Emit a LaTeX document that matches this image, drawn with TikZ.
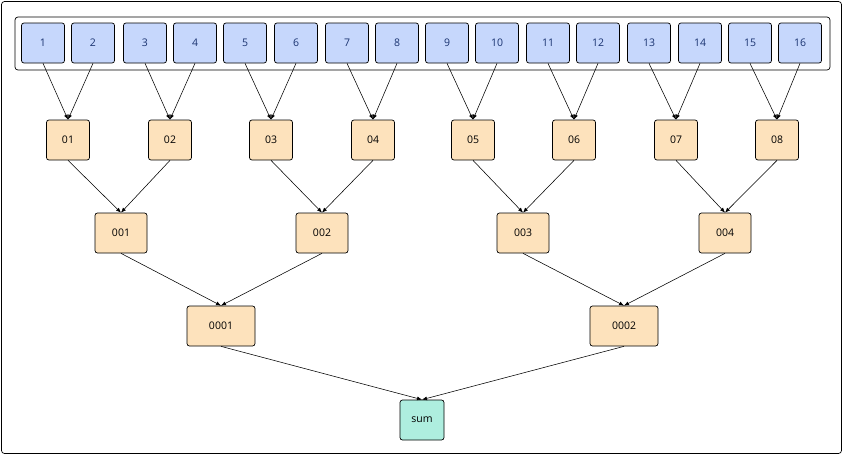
\documentclass[tikz,border=0pt]{standalone}
\usepackage{fontspec}
\setmainfont{Open Sans}
\usetikzlibrary{arrows.meta}
\definecolor{bl}{HTML}{C6D7FC}
\definecolor{bltx}{HTML}{1A3370}
\definecolor{or}{HTML}{FDE2BC}
\definecolor{tl}{HTML}{AEEEDF}
\begin{document}
\begin{tikzpicture}[x=1pt,y=-1pt,line width=0.7pt,
  box/.style={draw=black,rounded corners=2.5pt,minimum height=40pt,inner sep=0pt,font=\fontsize{10.5}{12}\selectfont},
  bbox/.style={box,fill=bl,text=bltx,minimum width=43pt},
  obox/.style={box,fill=or,minimum width=43pt},
  arr/.style={-{Latex[length=5pt,width=4pt]},line width=0.55pt}]
\useasboundingbox (0,0) rectangle (843,455);
\draw[rounded corners=3pt] (1.5,1.5) rectangle (841.5,453.5);
\draw[rounded corners=3pt] (15,17) rectangle (830,70);
\foreach \i/\x in {1/43,2/93,3/145,4/195,5/245,6/296,7/347,8/397,9/447,10/497,11/548,12/598,13/649,14/700,15/750,16/800}
  \node[bbox] (b\i) at (\x,43) {\i};
\foreach \i/\x in {1/68,2/170,3/271,4/373,5/473,6/574,7/676,8/777}
  \node[obox] (a\i) at (\x,140) {0\i};
\foreach \i/\x in {1/121,2/322,3/523,4/725}
  \node[obox,minimum width=52pt] (c\i) at (\x,233) {00\i};
\node[obox,minimum width=68pt] (d1) at (221,326) {0001};
\node[obox,minimum width=68pt] (d2) at (624,326) {0002};
\node[box,fill=tl,minimum width=44pt] (s) at (422,420) {sum};
\foreach \i in {1,...,8}{
  \pgfmathtruncatemacro{\l}{2*\i-1}\pgfmathtruncatemacro{\r}{2*\i}
  \draw[arr] (b\l.south) -- (a\i.north);
  \draw[arr] (b\r.south) -- (a\i.north);}
\foreach \i in {1,...,4}{
  \pgfmathtruncatemacro{\l}{2*\i-1}\pgfmathtruncatemacro{\r}{2*\i}
  \draw[arr] (a\l.south) -- (c\i.north);
  \draw[arr] (a\r.south) -- (c\i.north);}
\draw[arr] (c1.south) -- (d1.north);
\draw[arr] (c2.south) -- (d1.north);
\draw[arr] (c3.south) -- (d2.north);
\draw[arr] (c4.south) -- (d2.north);
\draw[arr] (d1.south) -- (s.north);
\draw[arr] (d2.south) -- (s.north);
\end{tikzpicture}
\end{document}
